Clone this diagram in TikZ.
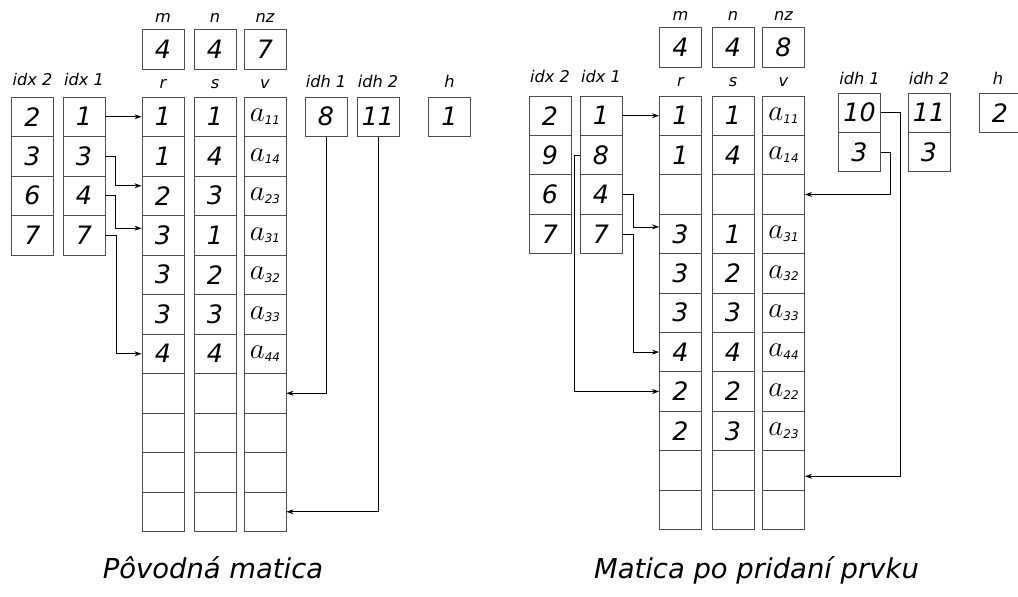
\documentclass[tikz,border=0pt]{standalone}
\usepackage{fontspec}
\setmainfont{DejaVu Sans}
\usetikzlibrary{positioning, arrows.meta, calc}
\newcommand{\aij}[1]{{\fontsize{20}{20}\selectfont$a$}\raisebox{-2pt}{\fontsize{8.5}{8.5}\selectfont\itshape #1}}

\begin{document}
\begin{tikzpicture}[x=0.025cm, y=-0.025cm, >=Stealth,
    cell/.style={draw=black!70, line width=0.6pt, minimum width=1.05cm,
                 minimum height=0.985cm, inner sep=0pt,
                 font=\fontsize{18}{18}\selectfont\itshape},
    lbl/.style={anchor=base, inner sep=0pt,
                font=\fontsize{11.5}{11.5}\selectfont\itshape},
    ttl/.style={anchor=base, inner sep=0pt,
                font=\fontsize{19.5}{19.5}\selectfont\itshape},
    link/.style={->, line width=0.5pt, >={Stealth[length=5pt, width=3.5pt]}}]
  \useasboundingbox (0,0) rectangle (1018,597);

  % --- povodna matica ---
  \node[cell] (L-m)  at (163,49.5) {4};
  \node[cell] (L-n)  at (215,49.5) {4};
  \node[cell] (L-nz) at (265,49.5) {7};
  \node[lbl] (L-m-lbl)  at (163,23) {m};
  \node[lbl] (L-n-lbl)  at (215,23) {n};
  \node[lbl] (L-nz-lbl) at (265,23) {nz};

  \node[lbl] (L-x2-lbl) at (32.5,86) {idx 2};
  \node[lbl] (L-x1-lbl) at (84,86)   {idx 1};
  \node[lbl] (L-r-lbl)  at (163,89)  {r};
  \node[lbl] (L-s-lbl)  at (215,89)  {s};
  \node[lbl] (L-v-lbl)  at (265,89)  {v};
  \node[lbl] (L-h1-lbl) at (326,88)  {idh 1};
  \node[lbl] (L-h2-lbl) at (378,88)  {idh 2};
  \node[lbl] (L-h-lbl)  at (449.5,88) {h};

  \foreach \t [count=\k] in {2,3,6,7}
    \node[cell] (L-x2-\k) at (32.5,{97+(\k-0.5)*39.5}) {\t};
  \foreach \t [count=\k] in {1,3,4,7}
    \node[cell] (L-x1-\k) at (84,{97+(\k-0.5)*39.5}) {\t};
  \foreach \t [count=\k] in {1,1,2,3,3,3,4,{},{},{},{}}
    \node[cell] (L-r-\k) at (163,{97+(\k-0.5)*39.5}) {\t};
  \foreach \t [count=\k] in {1,4,3,1,2,3,4,{},{},{},{}}
    \node[cell] (L-s-\k) at (215,{97+(\k-0.5)*39.5}) {\t};
  \foreach \t [count=\k] in {\aij{11},\aij{14},\aij{23},\aij{31},\aij{32},\aij{33},\aij{44},{},{},{},{}}
    \node[cell] (L-v-\k) at (265,{97+(\k-0.5)*39.5}) {\t};

  \node[cell] (L-h1) at (326,116.75)   {8};
  \node[cell] (L-h2) at (378,116.75)   {11};
  \node[cell] (L-h)  at (449.5,116.75) {1};

  \draw[link] (L-x1-1.east) -- (L-r-1.west);
  \draw[link] (L-x1-2.east) -- ++(10,0) |- ($(L-r-3.west)+(0,-10)$);
  \draw[link] (L-x1-3.east) -- ++(10,0) |- ($(L-r-4.west)+(0,-7)$);
  \draw[link] (L-x1-4.east) -- ++(11,0) |- (L-r-7.west);
  \draw[link] (L-h1.south) |- (L-v-8.east);
  \draw[link] (L-h2.south) |- (L-v-11.east);

  \node[ttl] (L-title) at (213,578) {Pôvodná matica};

  % --- matica po pridani prvku ---
  \node[cell] (R-m)  at (680.5,47.5) {4};
  \node[cell] (R-n)  at (733,47.5)   {4};
  \node[cell] (R-nz) at (783.5,47.5) {8};
  \node[lbl] (R-m-lbl)  at (680.5,21) {m};
  \node[lbl] (R-n-lbl)  at (733,21)   {n};
  \node[lbl] (R-nz-lbl) at (783.5,21) {nz};

  \node[lbl] (R-x2-lbl) at (550,83)   {idx 2};
  \node[lbl] (R-x1-lbl) at (601,83)   {idx 1};
  \node[lbl] (R-r-lbl)  at (680.5,87) {r};
  \node[lbl] (R-s-lbl)  at (733,87)   {s};
  \node[lbl] (R-v-lbl)  at (783.5,87) {v};
  \node[lbl] (R-h1-lbl) at (859.5,85) {idh 1};
  \node[lbl] (R-h2-lbl) at (929,85)   {idh 2};
  \node[lbl] (R-h-lbl)  at (998,85)   {h};

  \foreach \t [count=\k] in {2,9,6,7}
    \node[cell] (R-x2-\k) at (550,{96+(\k-0.5)*39.4}) {\t};
  \foreach \t [count=\k] in {1,8,4,7}
    \node[cell] (R-x1-\k) at (601,{96+(\k-0.5)*39.4}) {\t};
  \foreach \t [count=\k] in {1,1,{},3,3,3,4,2,2,{},{}}
    \node[cell] (R-r-\k) at (680.5,{96+(\k-0.5)*39.4}) {\t};
  \foreach \t [count=\k] in {1,4,{},1,2,3,4,2,3,{},{}}
    \node[cell] (R-s-\k) at (733,{96+(\k-0.5)*39.4}) {\t};
  \foreach \t [count=\k] in {\aij{11},\aij{14},{},\aij{31},\aij{32},\aij{33},\aij{44},\aij{22},\aij{23},{},{}}
    \node[cell] (R-v-\k) at (783.5,{96+(\k-0.5)*39.4}) {\t};

  \foreach \t [count=\k] in {10,3}
    \node[cell] (R-h1-\k) at (859.5,{93+(\k-0.5)*39.4}) {\t};
  \foreach \t [count=\k] in {11,3}
    \node[cell] (R-h2-\k) at (929,{93+(\k-0.5)*39.4}) {\t};
  \node[cell] (R-h) at (1000,112.7) {2};

  \draw[link] (R-x1-1.east) -- (R-r-1.west);
  \draw[link] (R-x1-2.west) -- ++(-5,0) |- (R-r-8.west);
  \draw[link] (R-x1-3.east) -- ++(11,0) |- ($(R-r-4.west)+(0,-7)$);
  \draw[link] (R-x1-4.east) -- ++(11,0) |- (R-r-7.west);
  \draw[link] (R-h1-1.east) -- ++(19,0) |- ($(R-v-10.east)+(0,6)$);
  \draw[link] (R-h1-2.east) -- ++(9,0) |- (R-v-3.east);

  \node[ttl] (R-title) at (756.5,578) {Matica po pridaní prvku};
\end{tikzpicture}
\end{document}
